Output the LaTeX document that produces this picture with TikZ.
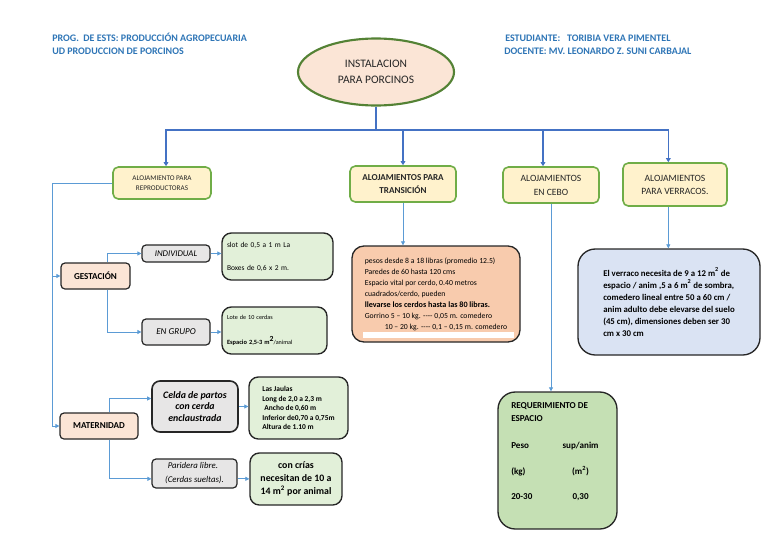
\documentclass[tikz,border=0pt]{standalone}
\usepackage{fontspec}
\setmainfont{Carlito}
\usetikzlibrary{shapes.geometric,arrows.meta}

\definecolor{hdrblue}{RGB}{46,117,182}
\definecolor{mainline}{RGB}{68,114,196}
\definecolor{subline}{RGB}{91,155,213}
\definecolor{peach}{RGB}{251,229,214}
\definecolor{cream}{RGB}{255,242,204}
\definecolor{leaf}{RGB}{112,173,71}
\definecolor{darkleaf}{RGB}{84,130,53}
\definecolor{mist}{RGB}{231,230,230}
\definecolor{mint}{RGB}{226,240,217}
\definecolor{salmon}{RGB}{248,203,173}
\definecolor{sky}{RGB}{218,227,243}
\definecolor{moss}{RGB}{197,224,180}
\definecolor{ink}{RGB}{38,38,38}

\newcommand{\fsz}[2]{\fontsize{#1}{#2}\selectfont}

\tikzset{
  topbox/.style={draw=leaf, fill=cream, line width=1.2pt, rounded corners=4pt, inner sep=0pt, align=center, text=ink},
  pinkbox/.style={draw=ink, fill=peach, line width=0.9pt, rounded corners=3pt, inner sep=0pt, align=center},
  greybox/.style={draw=ink, fill=mist, line width=0.9pt, rounded corners=3pt, inner sep=0pt, align=center},
  notebox/.style={draw=ink, line width=1pt, rounded corners=6pt, inner sep=0pt},
  hdrtext/.style={anchor=base west, inner sep=0pt, text=hdrblue, font=\fsz{7.5pt}{8pt}\bfseries},
  mainarrow/.style={draw=mainline, line width=1.1pt, -{Triangle[length=3pt,width=3.5pt]}},
  subarrow/.style={draw=subline, line width=0.6pt, -{Triangle[length=3pt,width=3pt]}},
}

\begin{document}
\begin{tikzpicture}[x=0.75pt,y=0.75pt,yscale=-1,xscale=1]
\useasboundingbox (0,0) rectangle (768,543);

% Text Node
\node[hdrtext] (prog) at (52,41) {PROG.~~DE ESTS: PRODUCCIÓN AGROPECUARIA};
% Text Node
\node[hdrtext] (ud) at (52,54) {UD PRODUCCION DE PORCINOS};
% Text Node
\node[hdrtext] (alumna) at (505,41) {ESTUDIANTE:~~~TORIBIA VERA PIMENTEL};
% Text Node
\node[hdrtext] (docente) at (504,54) {DOCENTE: MV. LEONARDO Z. SUNI CARBAJAL};

%Shape: Ellipse
\node[ellipse, draw=darkleaf, fill=peach, line width=1.6pt, minimum width=117pt, minimum height=50.25pt, inner sep=0pt, align=center, text=ink, font=\fsz{8.6pt}{12pt}] (root) at (376,72) {INSTALACION\\PARA PORCINOS};

%Rounded Rect: first level
\node[topbox, minimum width=73.5pt, minimum height=24pt, font=\fsz{5.4pt}{7.5pt}] (rep) at (162,183) {ALOJAMIENTO PARA\\REPRODUCTORAS};
\node[topbox, minimum width=79.5pt, minimum height=27pt, font=\fsz{6.8pt}{9.75pt}\bfseries] (trans) at (403,184) {ALOJAMIENTOS PARA\\TRANSICIÓN};
\node[topbox, minimum width=72pt, minimum height=27pt, font=\fsz{7.2pt}{10.5pt}] (cebo) at (551,185) {ALOJAMIENTOS\\EN CEBO};
\node[topbox, minimum width=78pt, minimum height=32.25pt, font=\fsz{7.2pt}{9.75pt}] (verr) at (675,184.5) {ALOJAMIENTOS\\PARA VERRACOS.};

%Straight Lines: first level
\coordinate (bus) at (376,130);
\draw[mainline, line width=1.1pt] (root.south) -- (bus);
\draw[mainarrow] (bus) -| ([xshift=3pt]rep.north);
\draw[mainarrow] (bus) -| (trans.north);
\draw[mainarrow] (bus) -| ([xshift=-6pt]cebo.north);
\draw[mainarrow] (bus) -| ([xshift=-5pt]verr.north);

%Rounded Rect: gestacion and maternidad
\node[pinkbox, minimum width=51.75pt, minimum height=19.5pt, font=\fsz{6.8pt}{8pt}\bfseries] (gest) at (95.5,276) {GESTACIÓN};
\node[pinkbox, minimum width=58.5pt, minimum height=19.5pt, font=\fsz{6.8pt}{8pt}\bfseries] (mat) at (99,426) {MATERNIDAD};

\node[greybox, minimum width=51pt, minimum height=12.75pt, font=\fsz{6.6pt}{8pt}\itshape] (ind) at (176,253.5) {INDIVIDUAL};
\node[greybox, minimum width=51pt, minimum height=19.5pt, font=\fsz{6.8pt}{8pt}\itshape] (grp) at (176,332) {EN GRUPO};
\node[greybox, line width=1.2pt, rounded corners=6pt, minimum width=64.5pt, minimum height=38.25pt, font=\fsz{7.4pt}{8.6pt}\bfseries\itshape] (celda) at (195,406.5) {Celda de partos\\con cerda\\enclaustrada};
\node[greybox, minimum width=63.75pt, minimum height=21.75pt, align=left, font=\fsz{6.6pt}{10.5pt}\itshape] (parid) at (194.5,473.5) {\hspace*{2pt}Paridera libre.\\(Cerdas sueltas).};

%Rounded Rect: notes
\node[notebox, fill=mint, rounded corners=7pt, minimum height=35.25pt, inner xsep=3.75pt, text width=75.75pt, align=left, font=\fsz{5.6pt}{17.25pt}] (inddet) at (277.5,256.5) {slot de 0,5 a 1 m La\\Boxes de 0,6 x 2 m.};
\node[notebox, fill=mint, rounded corners=7pt, minimum height=35.25pt, inner xsep=3.75pt, text width=71.25pt, align=left, font=\fsz{4.6pt}{18.75pt}] (grpdet) at (274.5,330.5) {Lote de 10 cerdas\\{\fsz{4.8pt}{5pt}\bfseries Espacio 2,5-3 m\raisebox{2pt}{\fsz{5.8pt}{6pt}2}}/animal};
\node[notebox, fill=mint, rounded corners=7pt, minimum width=74.25pt, minimum height=46.5pt, align=left, font=\fsz{5.6pt}{7.1pt}\bfseries] (jaulas) at (298.5,408) {Las Jaulas\\Long de 2,0 a 2,3 m\\\hspace*{1.5pt}Ancho de 0,60 m\\Inferior de0,70 a 0,75m\\Altura de 1.10 m};
\node[notebox, fill=mint, rounded corners=7pt, minimum width=69pt, minimum height=39pt, align=center, font=\fsz{7.4pt}{9.75pt}\bfseries] (crias) at (296,479) {con crías\\necesitan de 10 a\\14 m\textsuperscript{2} por animal};

\node[notebox, fill=salmon, rounded corners=9pt, minimum width=126pt, minimum height=72pt, align=left, font=\fsz{5.8pt}{8.25pt}] (transdet) at (436,294) {pesos desde 8 a 18 libras (promedio 12.5)\\
Paredes de 60 hasta 120 cms\\
Espacio vital por cerdo, 0.40 metros\\
cuadrados/cerdo, pueden\\
{\fsz{6.1pt}{8.25pt}\bfseries llevarse los cerdos hasta las 80 libras.}\\
Gorrino 5 -- 10 kg. {-}{-}{-}{-} 0,05 m. comedero\\
\hspace*{15pt}10 -- 20 kg. {-}{-}{-}{-} 0,1 -- 0,15 m. comedero};
\fill[white] (363,332) rectangle (514,338);

\node[notebox, fill=sky, rounded corners=13pt, minimum width=136.5pt, minimum height=79.5pt, align=left, font=\fsz{6.6pt}{9pt}\bfseries] (verrdet) at (669,302) {El verraco necesita de 9 a 12 m\textsuperscript{2} de\\
espacio / anim ,5 a 6 m\textsuperscript{2} de sombra,\\
comedero lineal entre 50 a 60 cm /\\
anim adulto debe elevarse del suelo\\
(45 cm), dimensiones deben ser 30\\
cm x 30 cm};

\node[notebox, fill=moss, rounded corners=13pt, minimum width=89.25pt, minimum height=102.75pt] (req) at (557.5,460.5) {};
% Text Node
\node[anchor=north west, inner sep=0pt, align=left, font=\fsz{6.8pt}{9.75pt}\bfseries] (reqtxt) at (511,402) {REQUERIMIENTO DE\\ESPACIO\\[10.5pt]\makebox[37pt][l]{Peso}\makebox[30pt]{sup/anim}\\[9.75pt]\makebox[37pt][l]{(kg)}\makebox[30pt]{(m\textsuperscript{2})}\\[9pt]\makebox[37pt][l]{20-30}\makebox[30pt]{0,30}};

%Straight Lines: second level
\coordinate (spine) at (52,183);
\draw[subline, line width=0.6pt] (rep.west) -- (spine) -- (spine |- mat.west);
\draw[subarrow] (spine |- gest.west) -- (gest.west);
\draw[subarrow] (spine |- mat.west) -- (mat.west);
\draw[subarrow] ([xshift=9pt]gest.north) |- (ind.west);
\draw[subarrow] ([xshift=9pt]gest.south) |- (grp.west);
\draw[subarrow] (ind.east) -- (ind.east -| inddet.west);
\draw[subarrow] (grp.east) -- (grp.east -| grpdet.west);
\draw[subarrow] ([xshift=7.5pt]mat.north) |- ([yshift=-6pt]celda.west);
\draw[subarrow] ([xshift=7.5pt]mat.south) |- ([yshift=4pt]parid.west);
\draw[subarrow] (celda.east) -- (celda.east -| jaulas.west);
\draw[subarrow] ([yshift=4pt]parid.east) -- ([yshift=4pt]parid.east -| crias.west);
\draw[subarrow] (trans.south) -- (trans.south |- transdet.north);
\draw[subarrow] ([xshift=-5pt]verr.south) -- ([xshift=-5pt]verr.south |- verrdet.north);
\draw[subarrow] (cebo.south) -- (cebo.south |- req.north);

\end{tikzpicture}
\end{document}
